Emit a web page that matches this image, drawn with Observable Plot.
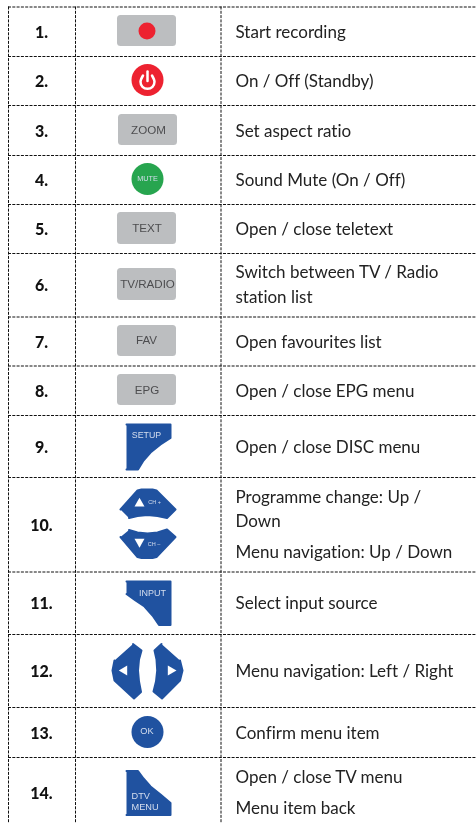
<!DOCTYPE html>
<html>
<head>
<meta charset="utf-8">
<style>html,body{margin:0;padding:0;background:#fff;overflow:hidden}svg{display:block}svg text{font-variant-ligatures:none}</style>
<script src="https://cdn.jsdelivr.net/npm/d3@7"></script>
<script src="https://cdn.jsdelivr.net/npm/@observablehq/plot@0.6"></script>
</head>
<body>
<script>
// Table grid
const rowBorders = [6.5, 56, 105, 155, 204, 253, 316.5, 365.5, 415, 477, 571.5, 634, 707, 757];
const columnBorders = [8, 75, 220.5];

// Row numbers
const rowNumbers = ["1.","2.","3.","4.","5.","6.","7.","8.","9.","10.","11.","12.","13.","14."];
const rowNumberY = [32, 81, 131, 180, 229, 285, 342, 391, 447, 525, 603, 671, 733, 793];

// Description text lines
const descriptions = ["Start recording","On / Off (Standby)","Set aspect ratio","Sound Mute (On / Off)","Open / close teletext","Switch between TV / Radio","station list","Open favourites list","Open / close EPG menu","Open / close DISC menu","Programme change: Up /","Down","Menu navigation: Up / Down","Select input source","Menu navigation: Left / Right","Confirm menu item","Open / close TV menu","Menu item back"];
const descriptionY = [32, 81, 131, 180, 229, 272, 297, 342, 391, 447, 497, 521, 552, 603, 671, 733, 777, 808];

// Grey rectangular buttons
const greyLabels = ["", "ZOOM", "TEXT", "TV/RADIO", "FAV", "EPG"];
const greyX1 = [117, 118, 117, 117, 117, 117];
const greyX2 = [176, 177, 176, 176, 176, 176];
const greyY1 = [15, 114, 212, 268, 325, 374];
const greyY2 = [46, 145, 244, 300, 356, 405];
const greyLabelX = [147, 148, 146.5, 147, 146, 146.5];
const greyLabelY = [30, 129.5, 228, 284, 340, 389.5];

// Round buttons
const circleX = [146.5, 147, 147, 147];
const circleY = [30.5, 79.5, 178.5, 731.5];
const circleR = [8.5, 16, 16, 16];
const circleFill = ["#ed2230", "#ed2230", "#27a54f", "#2052a0"];

// Power icon
const powerArc = [[151.5,75],[154,81.3],[152,86.3],[147,88.3],[142,86.3],[140,81.3],[142.5,75]];
const powerBar = [[147,71],[147,80.5]];

// Blue shaped buttons
const setupShape = [[126,424],[170,424],[170,437.5],[160,444],[150,452],[143,460],[137.5,469],[126,469]];
const inputShape = [[126,581],[170,581],[170,624.5],[158.5,624.5],[152,615],[144,606],[135,600],[126,593.5]];
const dtvShape = [[126,770.5],[137.5,770.5],[143,778],[150,786],[160,794],[170,802.5],[170,814.5],[126,814.5]];
const chUpShape = [[120,509],[137,490],[141,489],[152,489],[156,490],[175,509],[166.5,517.5],[157,515.5],[147,514.5],[137,515.5],[128.5,517.5]];
const chDownShape = [[128.5,529.5],[137,532],[147,533],[157,532],[166.5,529],[175,536.5],[156,556.5],[152,557.5],[141,557.5],[137,556.5],[120,536.5]];
const leftShape = [[132.5,643.5],[141,650],[138.5,659],[137.5,670],[138.5,681],[140.5,691.5],[133.5,698],[114,680],[112,670],[114,660]];
const rightShape = [[161,643.5],[154,650],[156,659],[156.7,670],[155.5,681],[153,691],[161.5,698],[179.5,680],[182,670],[179.5,660]];

// White arrows
const arrowUp = [[134,506],[144,506],[139,497.3]];
const arrowDown = [[134,538.3],[144,538.3],[139,547.3]];
const arrowLeft = [[126.7,665],[126.7,675],[118.3,670]];
const arrowRight = [[167.3,665],[167.3,675],[176,670]];

// Labels on the coloured buttons
const centredLabels = ["MUTE","SETUP","CH +","CH –","INPUT","OK"];
const centredLabelX = [147,146,154,153.5,152,146.5];
const centredLabelY = [178.5,435,501.5,543.5,592.5,731];
const centredLabelSize = [7.3,8.8,5.5,5.5,9,9.2];
const dtvLabels = ["DTV","MENU"];
const dtvLabelY = [796,806.5];

const idx = a => a.map((_, i) => i);
const blue = "#2052a0";
const shape = (pts, fill) => Plot.line(pts, {x: d => d[0], y: d => d[1], fill, stroke: fill, strokeWidth: 2, strokeLinejoin: "round"});
const sans = "'Liberation Sans', Arial, sans-serif";

const chart = Plot.plot({
  width: 476,
  height: 823,
  margin: 0,
  x: {domain: [0, 476], range: [0, 476], axis: null},
  y: {domain: [0, 823], range: [0, 823], axis: null},
  r: {type: "identity"},
  style: {background: "#fff", filter: "blur(0.3px)"},
  marks: [
    Plot.ruleY(rowBorders, {x1: 8, x2: 476, stroke: "#111", strokeWidth: 1, strokeDasharray: "3,1.3"}),
    Plot.ruleX(columnBorders, {y1: 6.5, y2: 823, stroke: "#111", strokeWidth: 1, strokeDasharray: "3,1.3"}),
    Plot.text(rowNumbers, {x: 41, y: (_, i) => rowNumberY[i], text: d => d, fontFamily: "Lato, sans-serif", fontWeight: 900, fontSize: 16, fill: "#111", textAnchor: "middle"}),
    Plot.text(descriptions, {x: 235, y: (_, i) => descriptionY[i], text: d => d, fontFamily: "Lato, sans-serif", fontSize: 17, fill: "#222", textAnchor: "start"}),
    Plot.rect(idx(greyLabels), {x1: i => greyX1[i], x2: i => greyX2[i], y1: i => greyY1[i], y2: i => greyY2[i], fill: "#bcbec0", rx: 3.5}),
    Plot.text(greyLabels, {x: (_, i) => greyLabelX[i], y: (_, i) => greyLabelY[i], text: d => d, fontFamily: sans, fontSize: 11.6, fill: "#4d4d4f"}),
    Plot.dot(idx(circleX), {x: i => circleX[i], y: i => circleY[i], r: i => circleR[i], fill: i => circleFill[i]}),
    Plot.line(powerArc, {x: d => d[0], y: d => d[1], stroke: "#fff", strokeWidth: 2.5, curve: "catmull-rom"}),
    Plot.line(powerBar, {x: d => d[0], y: d => d[1], stroke: "#fff", strokeWidth: 2.5}),
    ...[setupShape, inputShape, dtvShape, chUpShape, chDownShape, leftShape, rightShape].map(s => shape(s, blue)),
    ...[arrowUp, arrowDown, arrowLeft, arrowRight].map(s => Plot.line(s, {x: d => d[0], y: d => d[1], fill: "#fff", stroke: "none"})),
    Plot.text(centredLabels, {x: (_, i) => centredLabelX[i], y: (_, i) => centredLabelY[i], text: d => d, fontFamily: sans, fontSize: (_, i) => centredLabelSize[i], fill: "#d5deee", textAnchor: "middle"}),
    Plot.text(dtvLabels, {x: 131, y: (_, i) => dtvLabelY[i], text: d => d, fontFamily: sans, fontSize: 9.2, fill: "#d5deee", textAnchor: "start"})
  ]
});
document.body.appendChild(chart);
</script>
</body>
</html>
